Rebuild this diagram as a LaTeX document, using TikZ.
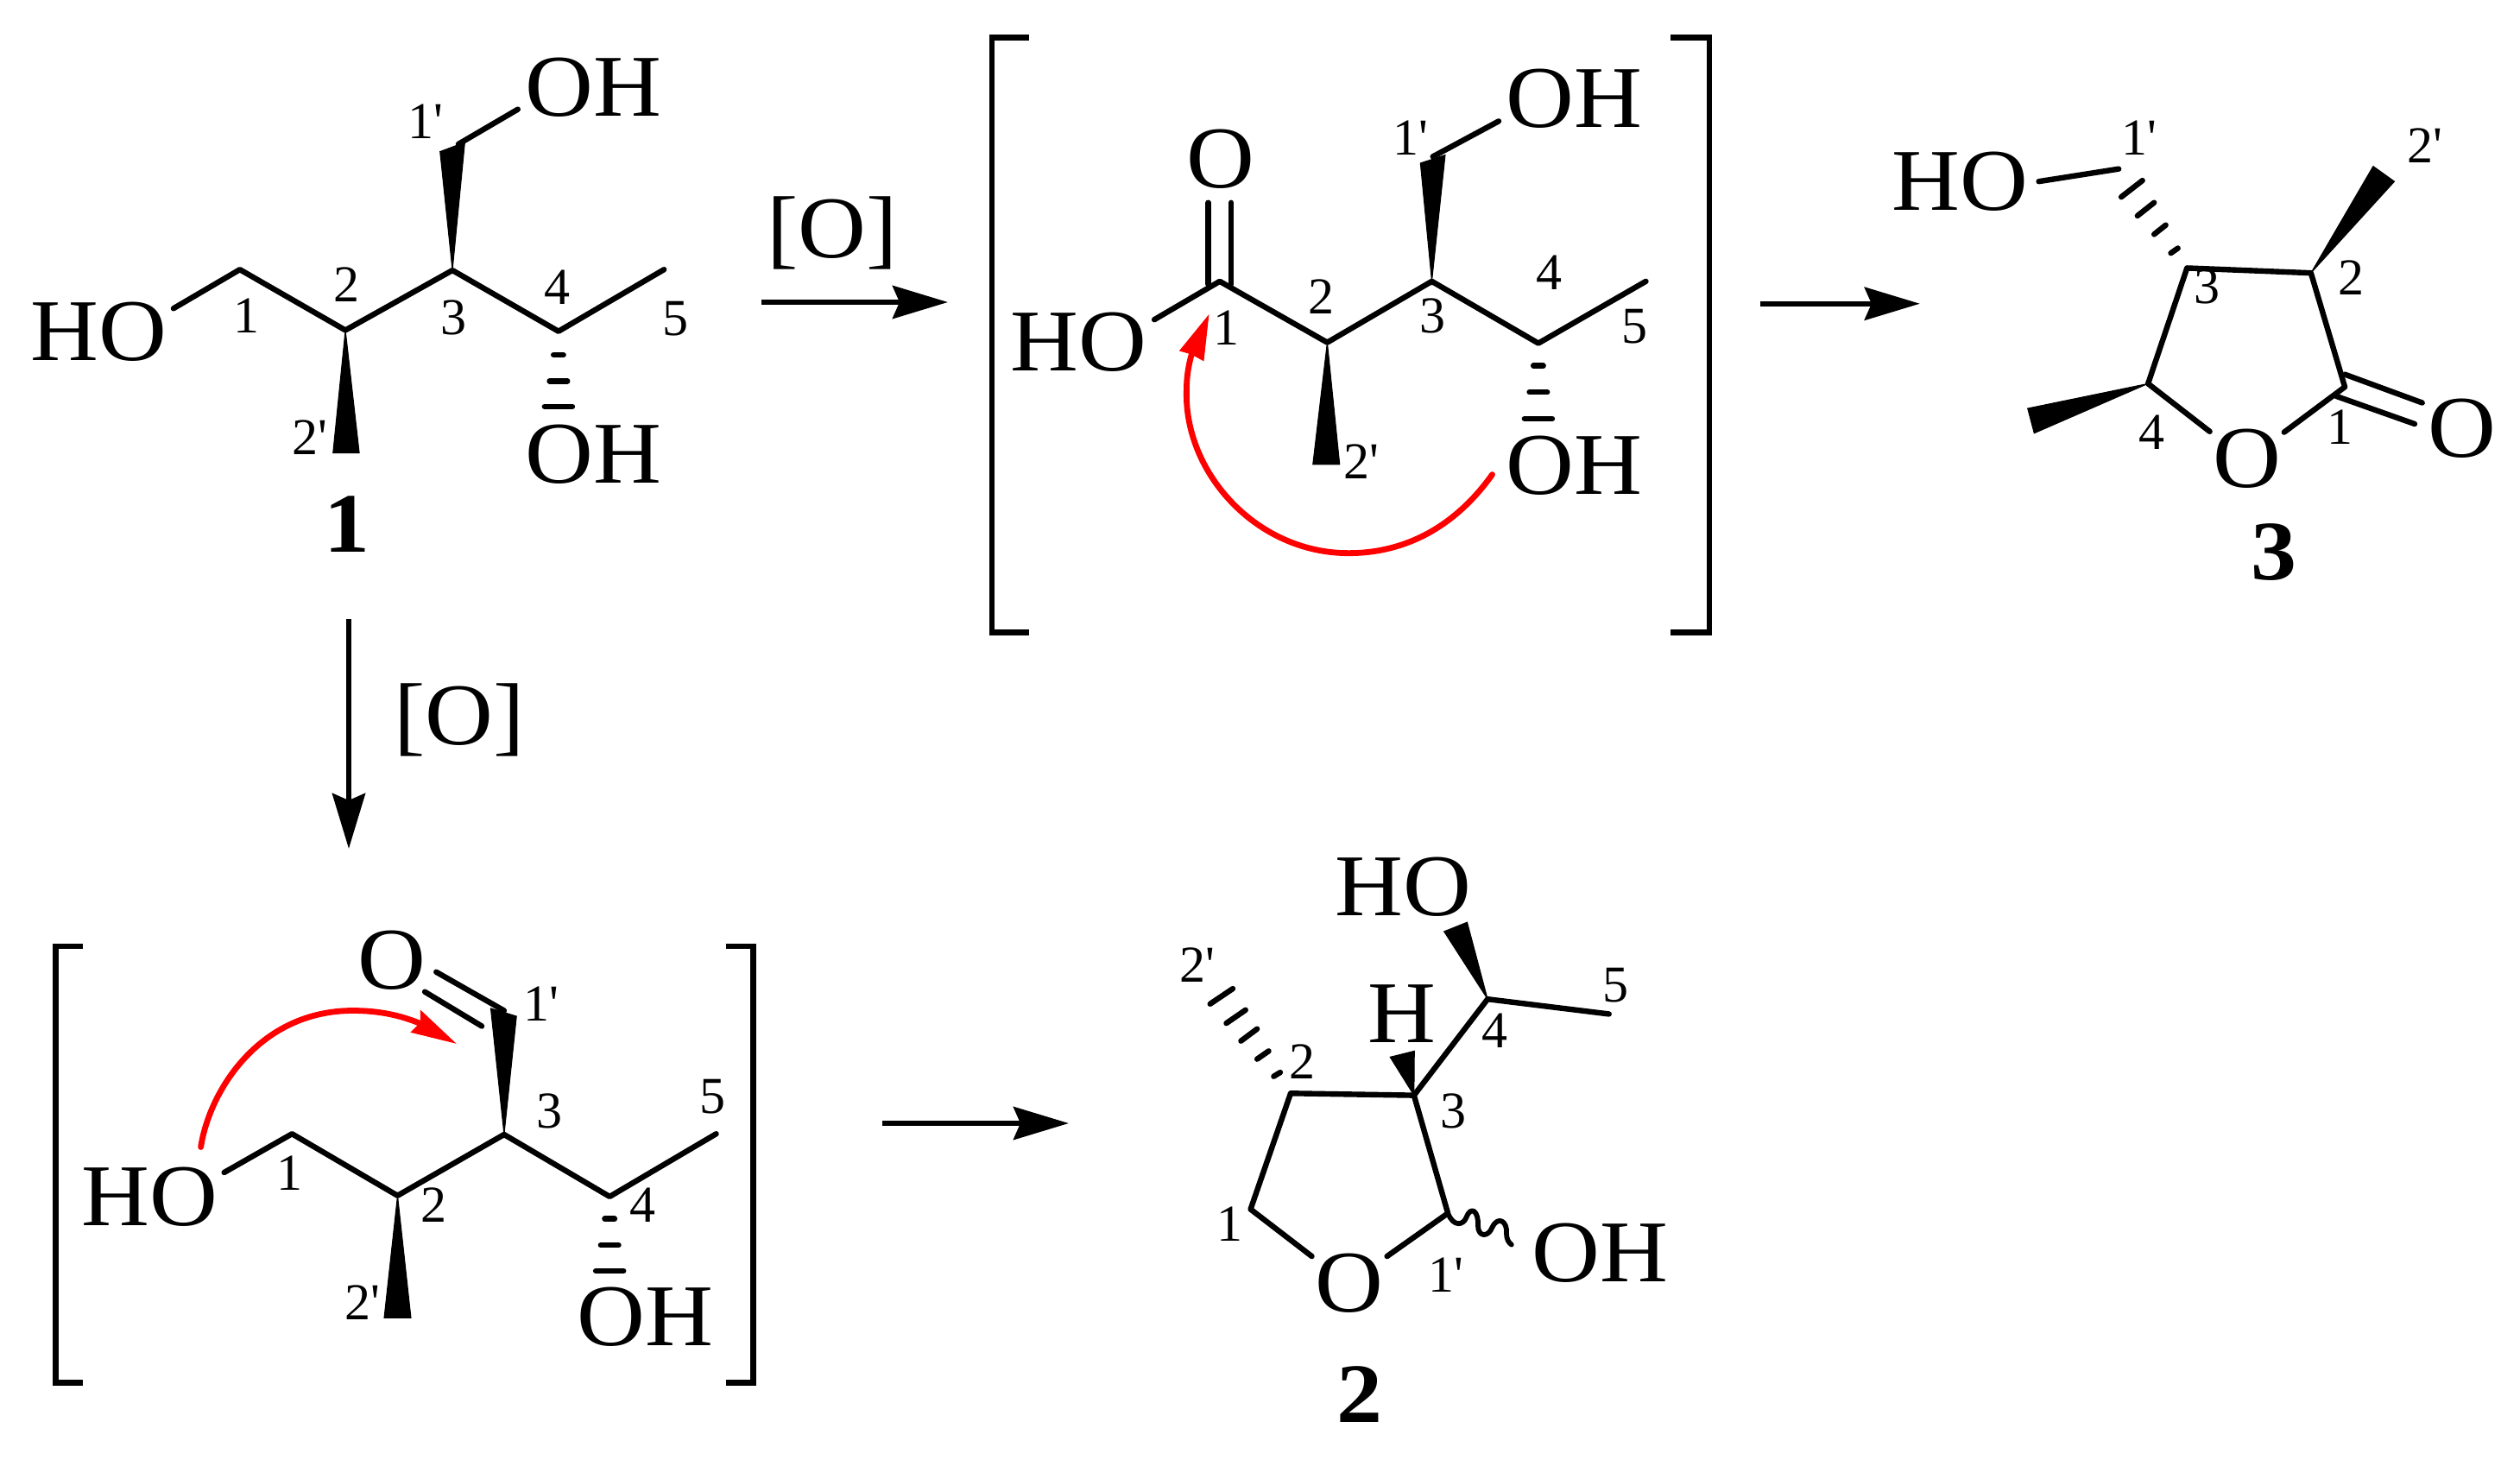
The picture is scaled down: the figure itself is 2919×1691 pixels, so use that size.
\documentclass[tikz,border=0pt]{standalone}
\usepackage{fontspec}
\usetikzlibrary{arrows.meta}
\newfontfamily\chemfont[FakeStretch=1.07]{Liberation Serif}
\newfontfamily\numfont[FakeStretch=1.0]{Liberation Serif}
\newfontfamily\boldfont[FakeStretch=1.08]{Liberation Serif Bold}
\tikzset{
  bond/.style={line width=3.2pt,line cap=round,line join=round,black},
  wedge/.style={fill=black,draw=black,line width=.5pt},
  atom/.style={inner sep=0pt,anchor=base,font=\chemfont\fontsize{51}{57}\selectfont},
  num/.style={inner sep=0pt,anchor=base,font=\numfont\fontsize{30}{34}\selectfont},
  cpd/.style={inner sep=0pt,anchor=base,font=\boldfont\fontsize{49}{55}\selectfont},
  brk/.style={line width=3.3pt,line cap=butt,line join=miter,black},
  rxn/.style={line width=3.2pt,black,-{Stealth[length=32pt,width=19pt,inset=4pt]}},
  redl/.style={line width=3.4pt,red,line cap=round},
  redh/.style={fill=red,draw=red,line width=.6pt}
}
\begin{document}
\begin{tikzpicture}[x=.5pt,y=-.5pt]
\useasboundingbox (0,0) rectangle (2919,1691);
% ===== compound 1
\begin{scope}[x=.287pt,y=-.2168pt]
\coordinate (aHO) at (350,824); \coordinate (a1) at (484,720); \coordinate (a2) at (697,882);
\coordinate (a3) at (913,722); \coordinate (a4) at (1127,885); \coordinate (a5) at (1340,720);
\coordinate (a1p) at (925,385); \coordinate (aOH) at (1045,292);
\coordinate (aw1) at (888,405); \coordinate (aw2) at (938,380);
\coordinate (ab1) at (672,1210); \coordinate (ab2) at (725,1210);
\draw[bond] (aHO)--(a1)--(a2)--(a3)--(a4)--(a5);
\draw[bond] (a1p)--(aOH);
\fill[wedge] (a3)--(aw1)--(aw2)--cycle;
\fill[wedge] (a2)--(ab1)--(ab2)--cycle;
\draw[bond] (1117,948)--(1137,948) (1109,1018)--(1145,1018) (1099,1086)--(1155,1086);
\node[atom] (aNHO) at (200,962) {HO};
\node[atom] (aNOH) at (1197,310) {OH};
\node[atom] (aNOHb) at (1197,1290) {OH};
\node[num] (al1) at (498,890) {1};
\node[num] (al2) at (700,805) {2};
\node[num] (al3) at (916,893) {3};
\node[num] (al4) at (1124,813) {4};
\node[num] (al5) at (1363,897) {5};
\node[num] (al1p) at (858,370) {1'};
\node[num] (al2p) at (625,1215) {2'};
\node[cpd] (aname) at (700,1475) {1};
\end{scope}
% ===== acid intermediate
\begin{scope}[xshift=550pt,yshift=-10pt,x=.287pt,y=-.236pt]
\coordinate (bHO) at (413,742); \coordinate (b1) at (545,648); \coordinate (b2) at (762,798);
\coordinate (b3) at (973,648); \coordinate (b4) at (1188,800); \coordinate (b5) at (1405,648);
\coordinate (b1p) at (975,342); \coordinate (bOH) at (1108,255);
\coordinate (bw1) at (950,358); \coordinate (bw2) at (1000,338);
\coordinate (bb1) at (733,1097); \coordinate (bb2) at (787,1097);
\draw[brk] (160,50)--(85,50)--(85,1510)--(160,1510);
\draw[brk] (1455,50)--(1533,50)--(1533,1510)--(1455,1510);
\draw[bond] (bHO)--(b1)--(b2)--(b3)--(b4)--(b5);
\draw[bond] (522,455)--(522,655) (568,455)--(568,655);
\draw[bond] (b1p)--(bOH);
\fill[wedge] (b3)--(bw1)--(bw2)--cycle;
\fill[wedge] (b2)--(bb1)--(bb2)--cycle;
\draw[bond] (1178,855)--(1198,855) (1170,920)--(1206,920) (1160,985)--(1216,985);
\coordinate (brs) at (1095,1122); \coordinate (brt) at (522,733);
\coordinate (brn) at (488,828);
\draw[redl] (brs) .. controls (1020,1250) and (920,1315) .. (805,1315) .. controls (620,1315) and (475,1120) .. (478,920) .. controls (478,880) and (482,855) .. (brn);
\fill[redh] (brt)--(465,818)--(488,826)--(512,842)--cycle;
\node[atom] (bNO) at (547,418) {O};
\node[atom] (bNHO) at (260,868) {HO};
\node[atom] (bNOH) at (1260,270) {OH};
\node[atom] (bNOHb) at (1260,1170) {OH};
\node[num] (bl1) at (558,805) {1};
\node[num] (bl2) at (750,728) {2};
\node[num] (bl3) at (975,775) {3};
\node[num] (bl4) at (1210,668) {4};
\node[num] (bl5) at (1382,800) {5};
\node[num] (bl1p) at (930,338) {1'};
\node[num] (bl2p) at (830,1132) {2'};
\end{scope}
% ===== lactone 3
\begin{scope}[xshift=1000pt,yshift=-50pt,x=.293pt,y=-.1913pt]
\coordinate (cs) at (67,658); \coordinate (ct) at (382,658);
\coordinate (c3) at (910,550); \coordinate (c2) at (1155,565); \coordinate (c1) at (1222,910);
\coordinate (cOr) at (1102,1047); \coordinate (cOl) at (955,1045); \coordinate (c4) at (833,900);
\coordinate (cb1) at (617,288); \coordinate (cb2) at (775,250);
\draw[rxn] (cs)--(ct);
\draw[bond] (cOr)--(c1)--(c2)--(c3)--(c4)--(cOl);
\draw[bond] (1222,872)--(1375,958) (1205,938)--(1360,1022);
\draw[bond] (cb1)--(cb2);
\fill[wedge] (c2)--(1278,242)--(1320,288)--cycle;
\fill[wedge] (c4)--(595,975)--(608,1050)--cycle;
\draw[bond] (878,505)--(892,490) (845,448)--(868,420) (812,392)--(845,352) (780,335)--(822,285);
\node[atom] (cNHO) at (462,375) {HO};
\node[atom] (cNO) at (1028,1215) {O};
\node[atom] (cNOd) at (1453,1123) {O};
\node[num] (cl1p) at (815,207) {1'};
\node[num] (cl2p) at (1380,232) {2'};
\node[num] (cl2) at (1235,630) {2};
\node[num] (cl3) at (950,658) {3};
\node[num] (cl4) at (840,1100) {4};
\node[num] (cl1) at (1212,1083) {1};
\node[cpd] (cname) at (1082,1495) {3};
\end{scope}
% ===== aldehyde intermediate
\begin{scope}[xshift=15pt,yshift=-525pt,x=.287pt,y=-.1913pt]
\coordinate (dHO) at (400,805); \coordinate (d1) at (537,688); \coordinate (d2) at (750,875);
\coordinate (d3) at (965,690); \coordinate (d4) at (1178,878); \coordinate (d5) at (1393,688);
\draw[brk] (115,120)--(60,120)--(60,1442)--(115,1442);
\draw[brk] (1412,120)--(1468,120)--(1468,1442)--(1412,1442);
\draw[bond] (dHO)--(d1)--(d2)--(d3)--(d4)--(d5);
\fill[wedge] (d3)--(938,308)--(990,332)--cycle;
\fill[wedge] (d2)--(723,1245)--(777,1245)--cycle;
\draw[bond] (965,315)--(828,198) (805,258)--(920,362);
\draw[bond] (1168,945)--(1188,945) (1160,1025)--(1196,1025) (1150,1103)--(1206,1103);
\coordinate (drs) at (353,728); \coordinate (drt) at (865,412); \coordinate (drn) at (797,355);
\draw[redl] (drs) .. controls (370,560) and (470,315) .. (660,315) .. controls (710,315) and (755,328) .. (drn);
\fill[redh] (drt)--(778,380)--(797,352)--(797,316)--cycle;
\node[atom] (dNO) at (738,250) {O};
\node[atom] (dNHO) at (250,965) {HO};
\node[atom] (dNOH) at (1250,1330) {OH};
\node[num] (dl1) at (533,858) {1};
\node[num] (dl2) at (823,955) {2};
\node[num] (dl3) at (1057,670) {3};
\node[num] (dl4) at (1245,955) {4};
\node[num] (dl5) at (1385,625) {5};
\node[num] (dl1p) at (1040,345) {1'};
\node[num] (dl2p) at (680,1250) {2'};
\end{scope}
% ===== furanol 2
\begin{scope}[xshift=660pt,yshift=-480pt,x=.2232pt,y=-.2331pt]
\coordinate (e2) at (392,657); \coordinate (e3) at (712,662); \coordinate (e1p) at (800,955);
\coordinate (eOr) at (642,1062); \coordinate (eOl) at (447,1062); \coordinate (e1) at (288,945);
\coordinate (e4) at (903,423); \coordinate (e5) at (1218,460); \coordinate (ew) at (965,1033);
\draw[bond] (eOr)--(e1p)--(e3)--(e2)--(e1)--(eOl);
\draw[bond] (e3)--(e4)--(e5);
\fill[wedge] (e3)--(650,567)--(713,552)--cycle;
\fill[wedge] (e4)--(790,255)--(850,232)--cycle;
\draw[bond] (348,615)--(365,605) (305,572)--(335,552) (263,527)--(305,497) (225,483)--(275,450) (183,435)--(242,397);
\draw[bond,line width=2.9pt] (e1p) .. controls (815,990) and (840,985) .. (848,965) .. controls (860,935) and (880,950) .. (878,985) .. controls (878,1015) and (905,1015) .. (915,990) .. controls (930,960) and (955,975) .. (952,1005) .. controls (952,1020) and (958,1028) .. (ew);
\node[atom] (eNHO) at (685,215) {HO};
\node[atom] (eNH) at (680,530) {H};
\node[atom] (eNO) at (543,1200) {O};
\node[atom] (eNOH) at (1195,1125) {OH};
\node[num] (el2p) at (150,380) {2'};
\node[num] (el2) at (422,620) {2};
\node[num] (el5) at (1235,430) {5};
\node[num] (el4) at (922,543) {4};
\node[num] (el3) at (815,743) {3};
\node[num] (el1) at (235,1025) {1};
\node[num] (el1p) at (795,1150) {1'};
\node[cpd] (ename) at (572,1475) {2};
\end{scope}
% ===== reaction arrows
\coordinate (r1s) at (882,350); \coordinate (r1t) at (1098,350);
\coordinate (r2s) at (404,717); \coordinate (r2t) at (404,983);
\coordinate (r3s) at (1022,1301); \coordinate (r3t) at (1238,1301);
\draw[rxn] (r1s)--(r1t);
\draw[rxn] (r2s)--(r2t);
\draw[rxn] (r3s)--(r3t);
\node[atom] (oxa) at (964,298) {[O]};
\node[atom] (oxb) at (532,862) {[O]};
\end{tikzpicture}
\end{document}
